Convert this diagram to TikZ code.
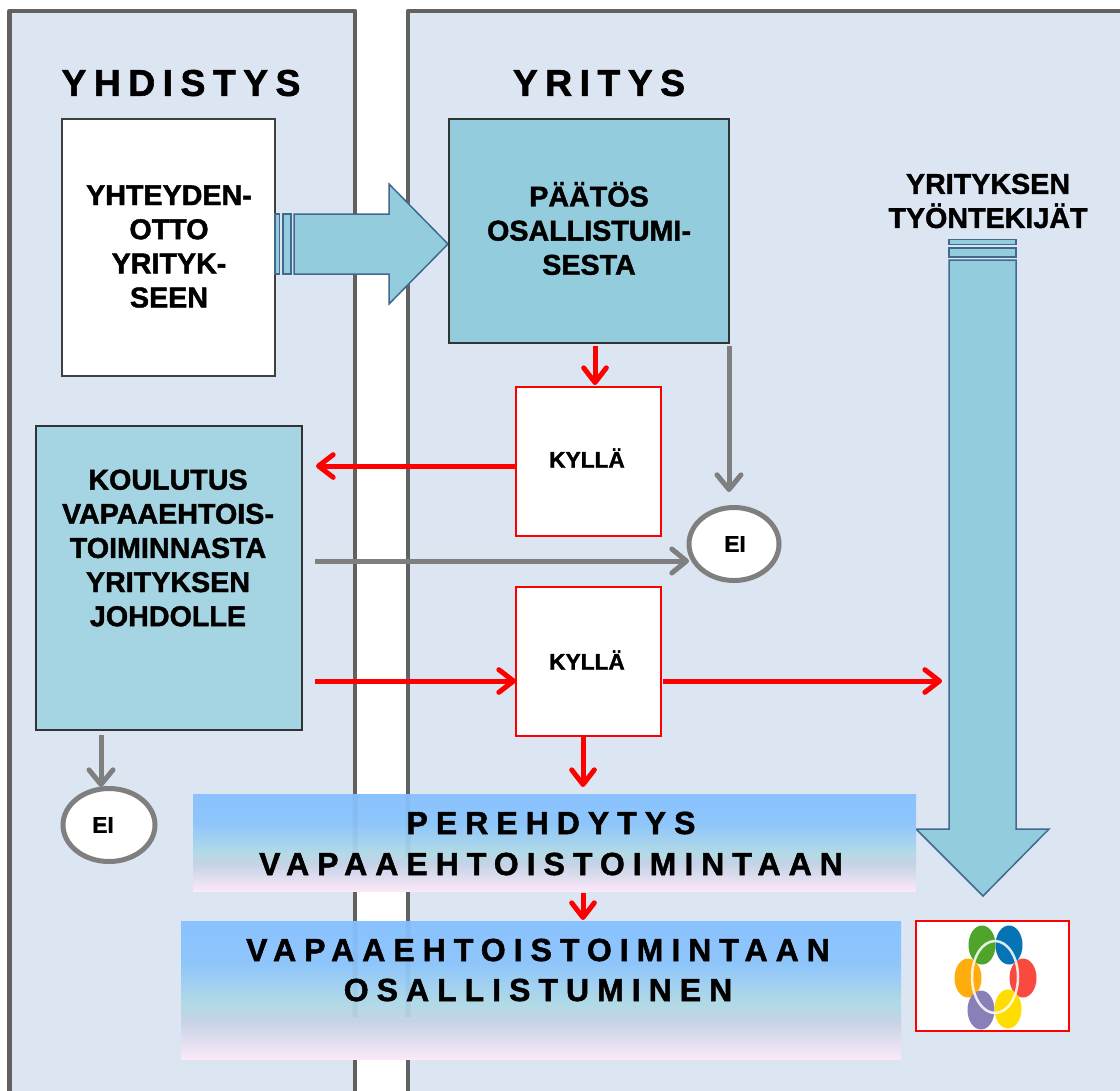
\documentclass[tikz,border=0pt]{standalone}
\usepackage{fontspec}
\setmainfont{Liberation Sans}[BoldFeatures={FakeBold=1.5}]
\usetikzlibrary{arrows.meta,calc,shapes.geometric}
\newdimen\px \px=0.75pt
\definecolor{panel}{HTML}{DCE6F2}
\definecolor{edgegray}{HTML}{616161}
\definecolor{teal}{HTML}{93CDDD}
\definecolor{teallight}{HTML}{A5D5E2}
\definecolor{tealedge}{HTML}{41688F}
\definecolor{grayline}{HTML}{7F7F7F}
\definecolor{redline}{HTML}{FF0000}
\definecolor{barA}{HTML}{8AC2FF}
\definecolor{barB}{HTML}{8EC5FB}
\definecolor{barC}{HTML}{B2DAE6}
\definecolor{barD}{HTML}{C5D3E6}
\definecolor{barE}{HTML}{FBE8F8}
\definecolor{logoOrange}{HTML}{FFAD0A}
\definecolor{logoGreen}{HTML}{4EA52A}
\definecolor{logoBlue}{HTML}{0673B5}
\definecolor{logoRed}{HTML}{F84A3E}
\definecolor{logoPurple}{HTML}{8A80B8}
\definecolor{logoYellow}{HTML}{FFDD00}
\pgfdeclareverticalshading{barfill}{100bp}{color(0bp)=(barE);color(25bp)=(barE);color(39bp)=(barD);color(45bp)=(barC);color(60bp)=(barB);color(75bp)=(barA);color(100bp)=(barA)}
\tikzset{
  x=0.75pt,y=-0.75pt,
  every node/.style={inner sep=0pt,outer sep=0pt,font=\bfseries},
  bigtext/.style={font=\fontsize{21.5}{25.6}\selectfont\bfseries,align=center},
  smalltext/.style={font=\fontsize{17}{20}\selectfont\bfseries},
  headtext/.style={font=\fontsize{28}{30}\selectfont\bfseries\addfontfeature{LetterSpace=20}},
  bartext/.style={font=\fontsize{24}{30}\selectfont\bfseries\addfontfeature{LetterSpace=25}},
  panelbox/.style={draw=edgegray,line width=4.5\px,fill=panel,line join=round},
  whitebox/.style={draw=black!75,line width=1.5\px,fill=white},
  tealbox/.style={draw=black!80,line width=1.5\px,fill=teal},
  redbox/.style={draw=redline,line width=1.5\px,fill=white},
  decision/.style={ellipse,draw=grayline,line width=5\px,fill=white},
  gradbar/.style={shading=barfill},
  block/.style={draw=tealedge,line width=1.5\px,fill=teal,line join=miter},
  redflow/.style={draw=redline,line width=3.75pt,-{Straight Barb[length=11pt,width=17pt,line width=3.75pt,round]}},
  grayflow/.style={draw=grayline,line width=3.75pt,-{Straight Barb[length=11pt,width=18pt,line width=3.75pt,round]}},
}
\begin{document}
\begin{tikzpicture}
\useasboundingbox (0,0) rectangle (1120,1090);
\clip (0,0) rectangle (1120,1090);
\fill[white] (0,0) rectangle (1120,1090);
% panels
\draw[panelbox] (9.5,1110) -- (9.5,11) -- (355,11) -- (355,1110);
\draw[panelbox] (408,1110) -- (408,11) -- (1140,11) -- (1140,1110) -- cycle;
\node[headtext] (h1) at (181,83) {YHDISTYS};
\node[headtext] (h2) at (599,83) {YRITYS};
% boxes
\node[whitebox,minimum width=213\px,minimum height=257\px] (contact) at (168.5,247.5) {};
\node[bigtext] (contactT) at (169,246.5) {YHTEYDEN-\\OTTO\\YRITYK-\\SEEN};
% block arrow right
\path[block] (275,214) rectangle (279.5,274);
\path[block] (283,214) rectangle (291,274);
\path[block] (294,214) -- (389,214) -- (389,184) -- (448,244) -- (389,304) -- (389,274) -- (294,274) -- cycle;
\node[tealbox,minimum width=280\px,minimum height=224\px] (decide) at (589,231) {};
\node[bigtext] (decideT) at (589,228.5) {PÄÄTÖS\\OSALLISTUMI-\\SESTA};
\node[tealbox,fill=teallight,minimum width=266\px,minimum height=304\px] (train) at (169,578) {};
\node[bigtext] (trainT) at (168,548) {KOULUTUS\\VAPAAEHTOIS-\\TOIMINNASTA\\YRITYKSEN\\JOHDOLLE};
\node[redbox,minimum width=145\px,minimum height=149\px] (yes1) at (588.5,461.5) {};
\node[smalltext] (yes1T) at (587,458) {KYLLÄ};
\node[redbox,minimum width=145\px,minimum height=149\px] (yes2) at (588.5,661.5) {};
\node[smalltext] (yes2T) at (587,660) {KYLLÄ};
\node[decision,minimum width=90\px,minimum height=73\px] (no1) at (734,544) {};
\node[smalltext] (no1T) at (735,544) {EI};
\node[decision,minimum width=92\px,minimum height=73\px] (no2) at (109,825) {};
\node[smalltext] (no2T) at (103,825) {EI};
% staff arrow
\node[bigtext] (staffT) at (988,201) {YRITYKSEN\\TYÖNTEKIJÄT};
\path[block] (949,239.5) rectangle (1016,244.5);
\path[block] (949,248) rectangle (1016,257);
\path[block] (949,260) -- (1016,260) -- (1016,829) -- (1049,829) -- (983,896) -- (916,829) -- (949,829) -- cycle;
% gradient bars
\node[gradbar,minimum width=723\px,minimum height=97\px] (intro) at (554.5,842.5) {};
\node[gradbar,minimum width=720\px,minimum height=138\px] (join) at (541,990) {};
\fill[tealedge,opacity=.08] (352.5,794) rectangle (357.5,857) (405.5,794) rectangle (410.5,857);
\fill[tealedge,opacity=.08] (352.5,921) rectangle (357.5,1017) (405.5,921) rectangle (410.5,1017);
\node[bartext] (introA) at (551,823) {PEREHDYTYS};
\node[bartext] (introB) at (551,864) {VAPAAEHTOISTOIMINTAAN};
\node[bartext] (joinA) at (538,950) {VAPAAEHTOISTOIMINTAAN};
\node[bartext] (joinB) at (538,990) {OSALLISTUMINEN};
% logo
\node[draw=redline,line width=1.5\px,fill=white,minimum width=153\px,minimum height=110\px] (logo) at (992.5,976) {};
\fill[logoOrange] (968,978) ellipse (13.5 and 19.5);
\fill[logoGreen] (982,945) ellipse (13.5 and 19.5);
\fill[logoBlue] (1009,945) ellipse (13.5 and 19.5);
\fill[logoRed] (1023,978) ellipse (13.5 and 19.5);
\fill[logoPurple] (981,1010) ellipse (13.5 and 19.5);
\fill[logoYellow] (1008,1009) ellipse (13.5 and 19.5);
\draw[white,line width=2.5\px,opacity=.85] (995,977) ellipse (23 and 36);
% connectors
\coordinate (a1) at (595,346);
\coordinate (a2) at (595,385);
\draw[redflow] (a1) -- (a2);
\coordinate (g1) at (729,346);
\coordinate (g2) at (729,492);
\draw[grayflow] (g1) -- (g2);
\coordinate (r1) at (316,466);
\draw[redflow] (yes1.west |- r1) -- (r1);
\coordinate (g3) at (315,561);
\coordinate (g4) at (689,561);
\draw[grayflow] (g3) -- (g4);
\coordinate (r2) at (315,681);
\draw[redflow] (r2) -- (yes2.west |- r2);
\coordinate (r3) at (663,681);
\coordinate (r4) at (942,681);
\draw[redflow] (r3) -- (r4);
\coordinate (r5) at (583,735);
\coordinate (r6) at (583,787);
\draw[redflow] (r5) -- (r6);
\coordinate (r7) at (583,893);
\coordinate (r8) at (583,920);
\draw[redflow] (r7) -- (r8);
\coordinate (g5) at (101,735);
\coordinate (g6) at (101,787);
\draw[grayflow] (g5) -- (g6);
\end{tikzpicture}
\end{document}
